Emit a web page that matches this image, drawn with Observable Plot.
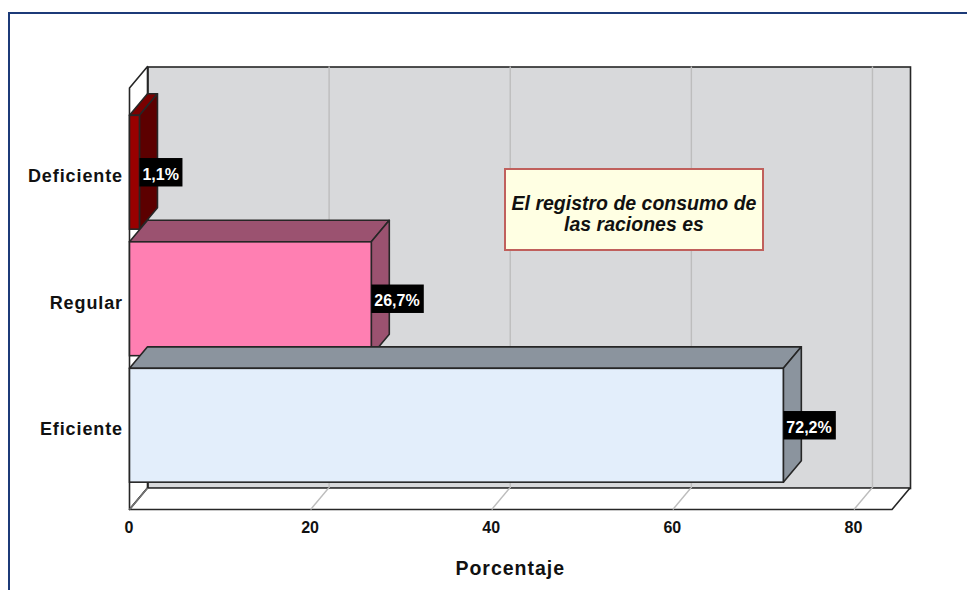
<!DOCTYPE html>
<html>
<head>
<meta charset="utf-8">
<script src="https://cdn.jsdelivr.net/npm/d3@7"></script>
<script src="https://cdn.jsdelivr.net/npm/@observablehq/plot@0.6"></script>
<style>
  html, body { margin: 0; padding: 0; background: #fff; overflow: hidden; }
  #page { position: relative; width: 967px; height: 590px; overflow: hidden; }
  #page svg { position: absolute; left: 0; top: 0; max-width: none; }
  #edge { position: absolute; left: 8px; top: 12px; width: 1000px; height: 700px;
          border-left: 2px solid #1c3a78; border-top: 2px solid #1c3a78; }
  #note { position: absolute; left: 504px; top: 168px; width: 256px; height: 71px; padding-top: 8px;
          border: 2px solid #c0605c; background: #ffffe3; color: #111;
          font: italic bold 19.5px "Liberation Sans", Arial, sans-serif; line-height: 21px;
          white-space: nowrap; text-align: center; display: flex; align-items: center; justify-content: center; }
  [aria-label="y-axis tick label"] { letter-spacing: 0.9px; }
  .xtitle { letter-spacing: 1px; }
</style>
</head>
<body>
<div id="page">
  <div id="edge"></div>
  <div id="chart"></div>
  <div id="note"><div>El registro de consumo de<br>las raciones es</div></div>
</div>
<script>
const categories = ["Deficiente", "Regular", "Eficiente"];
const percentages = [1.1, 26.7, 72.2];
const valueLabels = ["1,1%", "26,7%", "72,2%"];
const axisTicks = [0, 20, 40, 60, 80];
const axisMax = 84.2;
const axisTitle = "Porcentaje";

const frontColors = ["#990000", "#ff7fb2", "#e3eefb"];
const sideColors = ["#5c0000", "#9b5270", "#8b949e"];
const topColors = ["#7a0000", "#9b5270", "#8b949e"];

const rows = categories.map((category, i) => ({category, value: percentages[i], label: valueLabels[i], side: sideColors[i], top: topColors[i]}));

const DX = 18, DY = -21.5;
const INK = "#262626";
const poly = (pts, fill, stroke = INK, width = 1.6) =>
  d3.create("svg:polygon").attr("points", pts.map(p => p.join(",")).join(" "))
    .attr("fill", fill).attr("stroke", stroke).attr("stroke-width", width).attr("stroke-linejoin", "round").node();

// left wall and floor of the box, with the floor's grid lines
const shell = (index, scales, values, dims) => {
  const g = d3.create("svg:g").attr("aria-label", "box shell");
  const x0 = scales.x(0), xR = scales.x(axisMax);
  const t = dims.marginTop, b = dims.height - dims.marginBottom;
  g.append(() => poly([[x0, t], [x0 + DX, t + DY], [x0 + DX, b + DY], [x0, b]], "#fff"));
  g.append(() => poly([[x0, b], [xR, b], [xR + DX, b + DY], [x0 + DX, b + DY]], "#fff"));
  for (const tick of axisTicks) {
    g.append("line").attr("x1", scales.x(tick)).attr("x2", scales.x(tick) + DX).attr("y1", b).attr("y2", b + DY)
      .attr("stroke", tick === 0 ? "#777" : "#bdbdbd").attr("stroke-width", 1.4);
  }
  return g.node();
};

const faces = (index, scales, values, dims, context, next) => {
  const g = d3.create("svg:g").attr("aria-label", "bar faces");
  const band = scales.scales.y.bandwidth;
  for (const i of index) {
    const x1 = values.x1[i], x2 = values.x2[i], y1 = values.y[i], y2 = y1 + band;
    g.append(() => poly([[x1, y1], [x2, y1], [x2 + DX, y1 + DY], [x1 + DX, y1 + DY]], rows[i].top));
    g.append(() => poly([[x2, y1], [x2 + DX, y1 + DY], [x2 + DX, y2 + DY], [x2, y2]], rows[i].side));
    const front = next([i], scales, values, dims, context);
    g.append(() => front);
  }
  return g.node();
};

const labelBox = (rowsSubset, width) => Plot.barX(rowsSubset, {
  x1: "value", x2: "value", y: "category", fill: "#000",
  insetRight: -width, insetTop: 42.7, insetBottom: 42.7
});

const chart = Plot.plot({
  width: 967,
  height: 590,
  marginLeft: 129.5,
  marginRight: 75,
  marginTop: 88,
  marginBottom: 80.5,
  style: {background: "transparent", overflow: "visible", fontFamily: "'Liberation Sans', Arial, sans-serif"},
  x: {domain: [0, axisMax], label: null},
  y: {domain: categories, paddingInner: 0.1, paddingOuter: 0.216, label: null, round: false},
  color: {domain: categories, range: frontColors},
  marks: [
    Plot.frame({fill: "#d8d9db", stroke: INK, strokeWidth: 1.6, dx: DX, dy: DY}),
    shell,
    Plot.ruleX(axisTicks.slice(1), {stroke: "#bdbdbd", strokeWidth: 1.4, dx: DX, dy: DY}),
    Plot.barX(rows, {x1: () => 0, x2: "value", y: "category", fill: "category", stroke: INK, strokeWidth: 1.6, render: faces}),
    labelBox(rows.filter(d => d.label.length === 4), 43),
    labelBox(rows.filter(d => d.label.length > 4), 52.5),
    Plot.text(rows, {x: "value", y: "category", text: "label", fill: "#fff", fontWeight: "bold", fontSize: 16, textAnchor: "start", dx: 2.5, dy: 2}),
    Plot.axisX(axisTicks, {tickSize: 0, tickPadding: 12, fontWeight: "bold", fontSize: 16, fill: "#111", dx: -1, label: null}),
    Plot.axisY({tickSize: 0, tickPadding: 7, fontWeight: "bold", fontSize: 18, fill: "#111", label: null, dy: 3.5}),
    Plot.text([axisTitle], {frameAnchor: "bottom", dy: 65, dx: -1, fontWeight: "bold", fontSize: 19.5, fill: "#111", className: "xtitle"})
  ]
});
document.getElementById("chart").appendChild(chart);
</script>
</body>
</html>
